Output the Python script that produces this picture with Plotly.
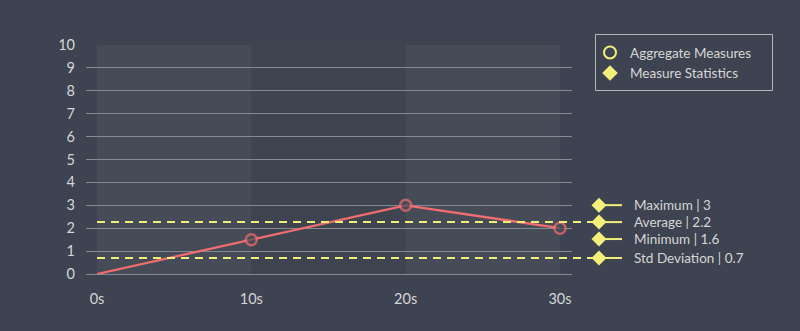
import plotly.graph_objects as go

# ---- data ----
times = [0, 10, 20, 30]
tick_labels = ["0s", "10s", "20s", "30s"]
values = [0, 1.5, 3, 2]
stat_names = ["Maximum", "Average", "Minimum", "Std Deviation"]
stat_values = [3, 2.2, 1.6, 0.7]
stat_labels = ["3", "2.2", "1.6", "0.7"]
dashed_stats = ["Average", "Std Deviation"]
y_ticks = list(range(0, 11))

# ---- style ----
PAGE = "#3d4350"
BAND = "#464c57"
MID = "#3f4550"
GRID = "#858a92"
TEXT = "#d6d6d6"
RED = "#f26d6d"
YEL = "#f3ef7a"
FONT = "Lato"

W, H = 800, 331
ML, MR, MT, MB = 86, 228, 45, 57
PW, PH = W - ML - MR, H - MT - MB

XR = [-0.713, 30.778]
YR = [0, 10]


def to_paper_x(v):
    return (v - XR[0]) / (XR[1] - XR[0])


def px_to_paper_x(px):
    return (px - ML) / PW


def px_to_paper_y(py):
    return (H - MB - py) / PH


# label positions with simple collision avoidance (min gap in data units)
MIN_GAP = 0.74
pos = list(stat_values)
for _ in range(50):
    moved = False
    for i in range(len(pos) - 1):
        gap = pos[i] - pos[i + 1]
        if gap < MIN_GAP:
            c = (pos[i] + pos[i + 1]) / 2
            pos[i] = c + MIN_GAP / 2
            pos[i + 1] = c - MIN_GAP / 2
            moved = True
    if not moved:
        break

fig = go.Figure()

# main series (first point has no marker)
fig.add_trace(go.Scatter(
    x=times, y=values, mode="lines+markers",
    line=dict(color=RED, width=2.3),
    marker=dict(symbol="circle", size=[0] + [11] * (len(times) - 1), color=BAND,
                line=dict(color=RED, width=2.5)),
    showlegend=False, hoverinfo="skip", cliponaxis=False,
))

# legend dummy entries
fig.add_trace(go.Scatter(
    x=[None], y=[None], mode="markers", name="Aggregate Measures",
    marker=dict(symbol="circle-open", size=11, color=YEL, line=dict(color=YEL, width=2.5)),
))
fig.add_trace(go.Scatter(
    x=[None], y=[None], mode="markers", name="Measure Statistics",
    marker=dict(symbol="diamond", size=15, color=YEL),
))

DIAMOND_PX = 599
DIAMOND_HALF = 7.5
LINE_END_PX = 622
LABEL_PX = 634

shapes = []
# bands
for i in range(len(times) - 1):
    shapes.append(dict(
        type="rect", xref="x", yref="paper", x0=times[i], x1=times[i + 1], y0=0, y1=1,
        fillcolor=BAND if i % 2 == 0 else MID, line=dict(width=0), layer="below",
    ))

# legend box
shapes.append(dict(
    type="rect", xref="paper", yref="paper",
    x0=px_to_paper_x(595.5), x1=px_to_paper_x(772.5),
    y0=px_to_paper_y(90.5), y1=px_to_paper_y(34.5),
    line=dict(color="#b4b7bc", width=1), fillcolor="rgba(0,0,0,0)", layer="above",
))

annotations = []
dxp = DIAMOND_HALF / PW
dyd = DIAMOND_HALF * (YR[1] - YR[0]) / PH
xc = px_to_paper_x(DIAMOND_PX)
for name, lab, p in zip(stat_names, stat_labels, pos):
    if name in dashed_stats:
        shapes.append(dict(
            type="line", xref="paper", yref="y",
            x0=to_paper_x(times[0]), x1=xc, y0=p, y1=p,
            line=dict(color=YEL, width=2, dash="8px,6px"), layer="above",
        ))
    shapes.append(dict(
        type="line", xref="paper", yref="y",
        x0=xc, x1=px_to_paper_x(LINE_END_PX), y0=p, y1=p,
        line=dict(color=YEL, width=2), layer="above",
    ))
    shapes.append(dict(
        type="path", xref="paper", yref="y",
        path=(f"M {xc - dxp} {p} L {xc} {p + dyd} L {xc + dxp} {p} "
              f"L {xc} {p - dyd} Z"),
        fillcolor=YEL, line=dict(width=0), layer="above",
    ))
    annotations.append(dict(
        xref="paper", yref="y", x=px_to_paper_x(LABEL_PX), y=p, text=f"{name} | {lab}",
        showarrow=False, xanchor="left", yanchor="middle", xshift=-2,
        font=dict(family=FONT, size=13.5, color=TEXT),
    ))

fig.update_layout(
    width=W, height=H,
    margin=dict(l=ML, r=MR, t=MT, b=MB),
    paper_bgcolor=PAGE, plot_bgcolor=PAGE,
    font=dict(family=FONT, size=14, color=TEXT),
    shapes=shapes, annotations=annotations,
    legend=dict(
        x=px_to_paper_x(590), xanchor="left", y=1.034, yanchor="top",
        bgcolor="rgba(0,0,0,0)", borderwidth=0,
        font=dict(family=FONT, size=13.5, color=TEXT),
        itemsizing="constant", tracegroupgap=0,
    ),
    xaxis=dict(
        range=XR, tickvals=times, ticktext=tick_labels, showgrid=False,
        zeroline=False, showline=False, ticks="", ticklabelstandoff=14,
        tickfont=dict(family=FONT, size=14.5, color=TEXT),
    ),
    yaxis=dict(
        range=YR, tickvals=y_ticks, showgrid=True, gridcolor=GRID, gridwidth=1,
        zeroline=True, zerolinecolor=GRID, zerolinewidth=1, showline=False,
        ticks="", ticklabelstandoff=10,
        tickfont=dict(family=FONT, size=14.5, color=TEXT),
    ),
)

fig.write_html("out.html")
